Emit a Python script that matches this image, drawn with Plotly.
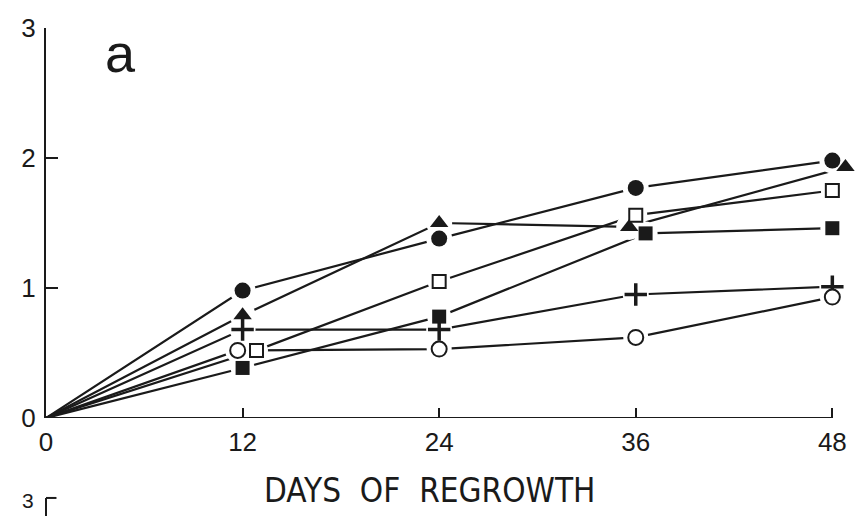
import plotly.graph_objects as go

# Regrowth sampling days and axis ticks
days = [0, 12, 24, 36, 48]
x_ticks = [0, 12, 24, 36, 48]
y_ticks = [0, 1, 2, 3]

# Measured values for each treatment (start at 0 on day 0)
closed_circle = [0, 0.98, 1.38, 1.77, 1.98]
closed_triangle = [0, 0.79, 1.50, 1.47, 1.93]
plus_series = [0, 0.68, 0.68, 0.95, 1.01]
open_square = [0, 0.52, 1.05, 1.56, 1.75]
open_circle = [0, 0.52, 0.53, 0.62, 0.93]
closed_square = [0, 0.385, 0.78, 1.42, 1.46]

INK = "#1a1a1a"
TICK_FONT = dict(family="Liberation Sans, Arial, sans-serif", size=26, color=INK)
LETTER_FONT = "Liberation Sans Narrow, DejaVu Sans Condensed, Liberation Sans, Arial, sans-serif"

# symbol styling; 'shift' separates symbols that would sit on top of each other
series = [
    dict(name="closed circle", y=closed_circle,
         marker=dict(symbol="circle", size=16, color=INK, line=dict(width=0)), shift={}),
    dict(name="closed triangle", y=closed_triangle,
         marker=dict(symbol="triangle-up", size=16, color=INK, line=dict(width=0)),
         shift={36: -0.4, 48: 0.8}),
    dict(name="plus", y=plus_series,
         marker=dict(symbol="cross-thin", size=16, color=INK, line=dict(width=3.5, color=INK)), shift={}),
    dict(name="open square", y=open_square,
         marker=dict(symbol="square", size=13, color="white", line=dict(width=2, color=INK)),
         shift={12: 0.85}),
    dict(name="open circle", y=open_circle,
         marker=dict(symbol="circle", size=15, color="white", line=dict(width=2, color=INK)),
         shift={12: -0.3}),
    dict(name="closed square", y=closed_square,
         marker=dict(symbol="square", size=14, color=INK, line=dict(width=0)),
         shift={36: 0.6}),
]

fig = go.Figure()

def xs(s):
    return [d + s["shift"].get(d, 0) for d in days]

# connecting lines
for s in series:
    fig.add_trace(go.Scatter(x=xs(s), y=s["y"], mode="lines",
                             line=dict(color=INK, width=2.2), hoverinfo="skip",
                             showlegend=False))

# white halos leave a small gap between line ends and symbols
for s in series:
    fig.add_trace(go.Scatter(x=xs(s)[1:], y=s["y"][1:], mode="markers",
                             marker=dict(symbol="circle", size=s["marker"]["size"] + 10,
                                         color="white", line=dict(width=0)),
                             hoverinfo="skip", showlegend=False, cliponaxis=False))

# symbols
for s in series:
    fig.add_trace(go.Scatter(x=xs(s)[1:], y=s["y"][1:], mode="markers", name=s["name"],
                             marker=s["marker"], showlegend=False, cliponaxis=False))

# x axis baseline ends at the last sampling day
fig.add_shape(type="line", xref="x", yref="y", x0=0, x1=x_ticks[-1], y0=0, y1=0,
              line=dict(color=INK, width=2.2), layer="below")

fig.update_xaxes(range=[0, 49.2], showline=False, showgrid=False, zeroline=False,
                 tickmode="array", tickvals=x_ticks, ticktext=[str(v) for v in x_ticks],
                 ticks="inside", ticklen=10, tickwidth=2, tickcolor=INK,
                 tickfont=TICK_FONT, ticklabelstandoff=6)
fig.update_yaxes(range=[0, 3], showline=True, linecolor=INK, linewidth=2.2,
                 showgrid=False, zeroline=False,
                 tickmode="array", tickvals=y_ticks, ticktext=[str(v) for v in y_ticks],
                 ticks="inside", ticklen=12, tickwidth=2, tickcolor=INK,
                 tickfont=TICK_FONT, ticklabelstandoff=3)

fig.add_annotation(text="DAYS  OF  REGROWTH", xref="paper", yref="paper",
                   x=0.476, y=-0.187, xanchor="center", yanchor="middle", showarrow=False,
                   font=dict(family=LETTER_FONT, size=33, color=INK))
fig.add_annotation(text="a", xref="paper", yref="paper", x=0.093, y=0.936,
                   xanchor="center", yanchor="middle", showarrow=False,
                   font=dict(family="Liberation Sans, Arial, sans-serif", size=54, color=INK))

# top of the next panel's axis at the page foot
fig.add_annotation(text="3", xref="paper", yref="paper", x=-0.022, y=-0.212,
                   xanchor="center", yanchor="middle", showarrow=False,
                   font=dict(family="Liberation Sans, Arial, sans-serif", size=21, color=INK))
fig.add_shape(type="line", xref="paper", yref="paper", x0=0.0, x1=0.013,
              y0=-0.205, y1=-0.205, line=dict(color=INK, width=2))
fig.add_shape(type="line", xref="paper", yref="paper", x0=0.0, x1=0.0,
              y0=-0.205, y1=-0.3, line=dict(color=INK, width=2))

fig.update_layout(width=857, height=516, paper_bgcolor="white", plot_bgcolor="white",
                  margin=dict(l=46, r=5, t=28, b=98), showlegend=False)

fig.write_html("out.html")
